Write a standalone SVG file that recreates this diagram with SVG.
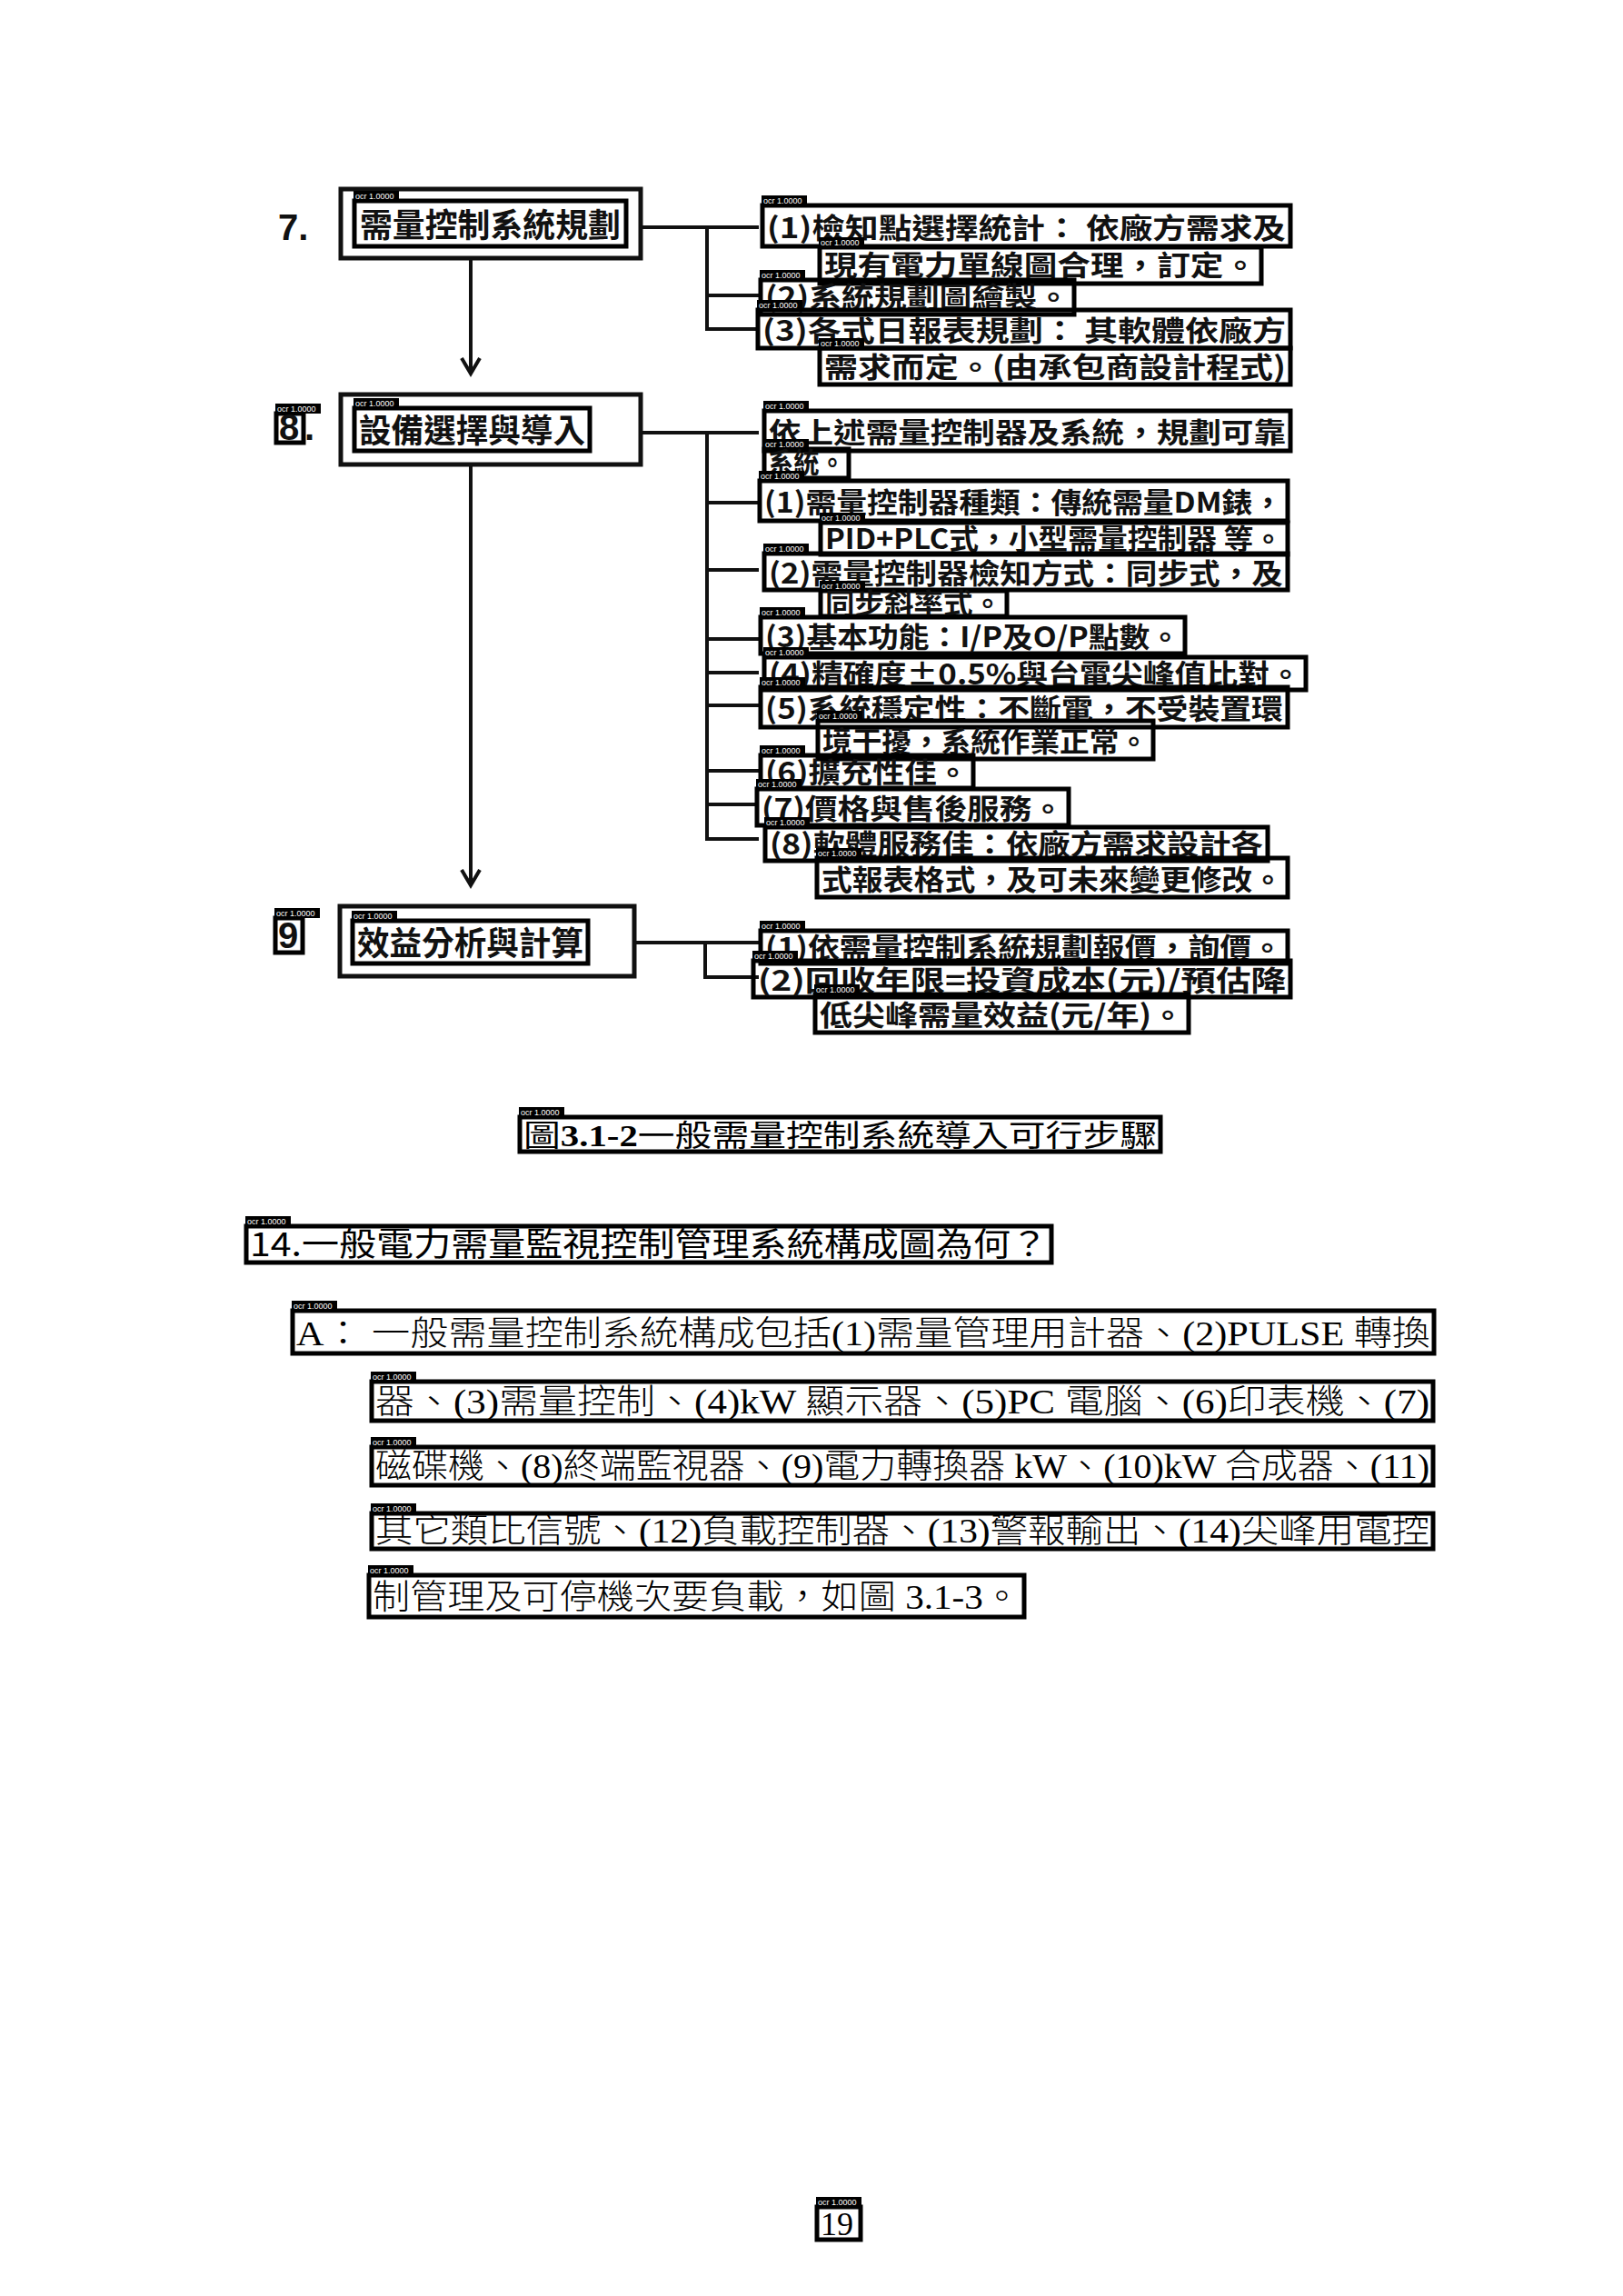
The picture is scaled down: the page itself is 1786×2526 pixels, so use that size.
<svg xmlns="http://www.w3.org/2000/svg" width="1786" height="2526" viewBox="0 0 1786 2526">
<defs>
<style>
.ocr{fill:none;stroke:#000;stroke-width:5}
.tag{fill:#000}
.tagt{font-family:"Liberation Sans",sans-serif;font-size:9px;fill:#fff}
.frame{fill:none;stroke:#111;stroke-width:5}
.conn{fill:none;stroke:#111;stroke-width:4}
.fig{font-family:"Noto Sans CJK TC","Noto Sans CJK SC",sans-serif;font-weight:700;font-size:31px;fill:#111}
.lbl{font-family:"Noto Sans CJK TC",sans-serif;font-weight:700;font-size:36px;fill:#111}
.num{font-family:"Liberation Sans",sans-serif;font-weight:700;font-size:40px;fill:#111}
.para{font-family:"Liberation Serif","Noto Sans CJK TC",serif;font-weight:300;font-size:37px;fill:#000}
.head{font-family:"Noto Sans CJK TC",sans-serif;font-size:36px;fill:#000}
.cap{font-family:"Liberation Serif","Noto Sans CJK TC",serif;font-size:33px;fill:#000}
</style>
<marker id="chev" markerWidth="24" markerHeight="26" viewBox="0 0 24 26" refX="20" refY="13" orient="auto" markerUnits="userSpaceOnUse">
<path d="M3,3 L20,13 L3,23" fill="none" stroke="#111" stroke-width="4"/>
</marker>
</defs>
<rect width="1786" height="2526" fill="#fff"/>

<g id="connectors">
<path class="conn" d="M705,250 H835 M778,250 V362 H835 M778,325 H835"/>
<path class="conn" d="M705,476 H835 M778,476 V923 H835 M778,553 H835 M778,627 H835 M778,703 H835 M778,740 H835 M778,776 H835 M778,848 H835 M778,885 H835"/>
<path class="conn" d="M697,1037 H835 M776,1037 V1075 H835"/>
<line class="conn" x1="518" y1="284" x2="518" y2="411" marker-end="url(#chev)"/>
<line class="conn" x1="518" y1="511" x2="518" y2="974" marker-end="url(#chev)"/>
</g>

<g id="step7">
<text class="num" x="306" y="264">7.</text>
<rect class="frame" x="375" y="208" width="330" height="76"/>
<rect class="ocr" x="390" y="221" width="299" height="50"/>
<rect class="tag" x="389" y="210" width="50" height="11"/><text class="tagt" x="391" y="219">ocr 1.0000</text>
<text class="lbl" x="396" y="261" textLength="287" lengthAdjust="spacingAndGlyphs">需量控制系統規劃</text>
</g>

<g id="step7-items">
<rect class="ocr" x="839" y="226" width="581" height="45"/>
<rect class="tag" x="838" y="215" width="50" height="11"/><text class="tagt" x="840" y="224">ocr 1.0000</text>
<text class="fig" x="844" y="262" textLength="571" lengthAdjust="spacingAndGlyphs">(1)檢知點選擇統計： 依廠方需求及</text>
<rect class="ocr" x="902" y="272" width="486" height="40"/>
<rect class="tag" x="901" y="261" width="50" height="11"/><text class="tagt" x="903" y="270">ocr 1.0000</text>
<text class="fig" x="907" y="303" textLength="476" lengthAdjust="spacingAndGlyphs">現有電力單線圖合理，訂定。</text>
<rect class="ocr" x="837" y="308" width="345" height="38"/>
<rect class="tag" x="836" y="297" width="50" height="11"/><text class="tagt" x="838" y="306">ocr 1.0000</text>
<text class="fig" x="842" y="338" textLength="335" lengthAdjust="spacingAndGlyphs">(2)系統規劃圖繪製。</text>
<rect class="ocr" x="834" y="341" width="586" height="42"/>
<rect class="tag" x="833" y="330" width="50" height="11"/><text class="tagt" x="835" y="339">ocr 1.0000</text>
<text class="fig" x="839" y="375" textLength="576" lengthAdjust="spacingAndGlyphs">(3)各式日報表規劃： 其軟體依廠方</text>
<rect class="ocr" x="902" y="383" width="518" height="40"/>
<rect class="tag" x="901" y="372" width="50" height="11"/><text class="tagt" x="903" y="381">ocr 1.0000</text>
<text class="fig" x="907" y="415" textLength="508" lengthAdjust="spacingAndGlyphs">需求而定。(由承包商設計程式)</text>
</g>

<g id="step8">
<rect class="ocr" x="304" y="455" width="30" height="32"/>
<rect class="tag" x="303" y="444" width="50" height="11"/><text class="tagt" x="305" y="453">ocr 1.0000</text>
<text class="num" x="307" y="484">8</text>
<text class="num" x="335" y="484">.</text>
<rect class="frame" x="375" y="434" width="330" height="77"/>
<rect class="ocr" x="390" y="449" width="259" height="47"/>
<rect class="tag" x="389" y="438" width="50" height="11"/><text class="tagt" x="391" y="447">ocr 1.0000</text>
<text class="lbl" x="395" y="487" textLength="249" lengthAdjust="spacingAndGlyphs">設備選擇與導入</text>
</g>

<g id="step8-items">
<rect class="ocr" x="841" y="452" width="579" height="44"/>
<rect class="tag" x="840" y="441" width="50" height="11"/><text class="tagt" x="842" y="450">ocr 1.0000</text>
<text class="fig" x="846" y="487" textLength="569" lengthAdjust="spacingAndGlyphs">依上述需量控制器及系統，規劃可靠</text>
<rect class="ocr" x="841" y="494" width="93" height="32"/>
<rect class="tag" x="840" y="483" width="50" height="11"/><text class="tagt" x="842" y="492">ocr 1.0000</text>
<text class="fig" x="845" y="520" textLength="85" lengthAdjust="spacingAndGlyphs">系統。</text>
<rect class="ocr" x="836" y="529" width="581" height="44"/>
<rect class="tag" x="835" y="518" width="50" height="11"/><text class="tagt" x="837" y="527">ocr 1.0000</text>
<text class="fig" x="841" y="564" textLength="571" lengthAdjust="spacingAndGlyphs">(1)需量控制器種類：傳統需量DM錶，</text>
<rect class="ocr" x="903" y="575" width="514" height="35"/>
<rect class="tag" x="902" y="564" width="50" height="11"/><text class="tagt" x="904" y="573">ocr 1.0000</text>
<text class="fig" x="908" y="604" textLength="504" lengthAdjust="spacingAndGlyphs">PID+PLC式，小型需量控制器 等。</text>
<rect class="ocr" x="841" y="609" width="576" height="40"/>
<rect class="tag" x="840" y="598" width="50" height="11"/><text class="tagt" x="842" y="607">ocr 1.0000</text>
<text class="fig" x="846" y="642" textLength="566" lengthAdjust="spacingAndGlyphs">(2)需量控制器檢知方式：同步式，及</text>
<rect class="ocr" x="903" y="650" width="205" height="28"/>
<rect class="tag" x="902" y="639" width="50" height="11"/><text class="tagt" x="904" y="648">ocr 1.0000</text>
<text class="fig" x="908" y="675" textLength="195" lengthAdjust="spacingAndGlyphs">同步斜率式。</text>
<rect class="ocr" x="837" y="679" width="467" height="40"/>
<rect class="tag" x="836" y="668" width="50" height="11"/><text class="tagt" x="838" y="677">ocr 1.0000</text>
<text class="fig" x="842" y="712" textLength="457" lengthAdjust="spacingAndGlyphs">(3)基本功能：I/P及O/P點數。</text>
<rect class="ocr" x="841" y="723" width="596" height="36"/>
<rect class="tag" x="840" y="712" width="50" height="11"/><text class="tagt" x="842" y="721">ocr 1.0000</text>
<text class="fig" x="846" y="753" textLength="586" lengthAdjust="spacingAndGlyphs">(4)精確度±0.5%與台電尖峰值比對。</text>
<rect class="ocr" x="837" y="756" width="580" height="44"/>
<rect class="tag" x="836" y="745" width="50" height="11"/><text class="tagt" x="838" y="754">ocr 1.0000</text>
<text class="fig" x="842" y="791" textLength="570" lengthAdjust="spacingAndGlyphs">(5)系統穩定性：不斷電，不受裝置環</text>
<rect class="ocr" x="900" y="793" width="369" height="42"/>
<rect class="tag" x="899" y="782" width="50" height="11"/><text class="tagt" x="901" y="791">ocr 1.0000</text>
<text class="fig" x="905" y="827" textLength="359" lengthAdjust="spacingAndGlyphs">境干擾，系統作業正常。</text>
<rect class="ocr" x="837" y="831" width="234" height="36"/>
<rect class="tag" x="836" y="820" width="50" height="11"/><text class="tagt" x="838" y="829">ocr 1.0000</text>
<text class="fig" x="842" y="861" textLength="224" lengthAdjust="spacingAndGlyphs">(6)擴充性佳。</text>
<rect class="ocr" x="833" y="868" width="343" height="40"/>
<rect class="tag" x="832" y="857" width="50" height="11"/><text class="tagt" x="834" y="866">ocr 1.0000</text>
<text class="fig" x="838" y="901" textLength="333" lengthAdjust="spacingAndGlyphs">(7)價格與售後服務。</text>
<rect class="ocr" x="842" y="910" width="553" height="37"/>
<rect class="tag" x="841" y="899" width="50" height="11"/><text class="tagt" x="843" y="908">ocr 1.0000</text>
<text class="fig" x="847" y="940" textLength="543" lengthAdjust="spacingAndGlyphs">(8)軟體服務佳：依廠方需求設計各</text>
<rect class="ocr" x="899" y="944" width="518" height="43"/>
<rect class="tag" x="898" y="933" width="50" height="11"/><text class="tagt" x="900" y="942">ocr 1.0000</text>
<text class="fig" x="904" y="979" textLength="508" lengthAdjust="spacingAndGlyphs">式報表格式，及可未來變更修改。</text>
</g>

<g id="step9">
<rect class="ocr" x="303" y="1010" width="30" height="38"/>
<rect class="tag" x="302" y="999" width="50" height="11"/><text class="tagt" x="304" y="1008">ocr 1.0000</text>
<text class="num" x="306" y="1043">9</text>
<rect class="frame" x="374" y="997" width="324" height="77"/>
<rect class="ocr" x="388" y="1013" width="259" height="47"/>
<rect class="tag" x="387" y="1002" width="50" height="11"/><text class="tagt" x="389" y="1011">ocr 1.0000</text>
<text class="lbl" x="393" y="1051" textLength="249" lengthAdjust="spacingAndGlyphs">效益分析與計算</text>
</g>

<g id="step9-items">
<rect class="ocr" x="837" y="1024" width="580" height="36"/>
<rect class="tag" x="836" y="1013" width="50" height="11"/><text class="tagt" x="838" y="1022">ocr 1.0000</text>
<text class="fig" x="842" y="1054" textLength="570" lengthAdjust="spacingAndGlyphs">(1)依需量控制系統規劃報價，詢價。</text>
<rect class="ocr" x="829" y="1057" width="591" height="40"/>
<rect class="tag" x="828" y="1046" width="50" height="11"/><text class="tagt" x="830" y="1055">ocr 1.0000</text>
<text class="fig" x="834" y="1090" textLength="581" lengthAdjust="spacingAndGlyphs">(2)回收年限=投資成本(元)/預估降</text>
<rect class="ocr" x="897" y="1094" width="411" height="42"/>
<rect class="tag" x="896" y="1083" width="50" height="11"/><text class="tagt" x="898" y="1092">ocr 1.0000</text>
<text class="fig" x="902" y="1128" textLength="401" lengthAdjust="spacingAndGlyphs">低尖峰需量效益(元/年)。</text>
</g>

<g id="caption">
<rect class="ocr" x="572" y="1229" width="705" height="38"/>
<rect class="tag" x="571" y="1218" width="50" height="11"/><text class="tagt" x="573" y="1227">ocr 1.0000</text>
<text class="cap" x="576" y="1261" textLength="697" lengthAdjust="spacingAndGlyphs">圖<tspan font-weight="700">3.1-2</tspan>一般需量控制系統導入可行步驟</text>
</g>

<g id="question">
<rect class="ocr" x="271" y="1349" width="886" height="40"/>
<rect class="tag" x="270" y="1338" width="50" height="11"/><text class="tagt" x="272" y="1347">ocr 1.0000</text>
<text class="head" x="275" y="1382" textLength="878" lengthAdjust="spacingAndGlyphs">14.一般電力需量監視控制管理系統構成圖為何？</text>
</g>

<g id="answer">
<rect class="ocr" x="322" y="1442" width="1256" height="47"/>
<rect class="tag" x="321" y="1431" width="50" height="11"/><text class="tagt" x="323" y="1440">ocr 1.0000</text>
<text class="para" x="326" y="1480" textLength="1248" lengthAdjust="spacingAndGlyphs">A： 一般需量控制系統構成包括(1)需量管理用計器、(2)PULSE 轉換</text>
<rect class="ocr" x="409" y="1520" width="1168" height="43"/>
<rect class="tag" x="408" y="1509" width="50" height="11"/><text class="tagt" x="410" y="1518">ocr 1.0000</text>
<text class="para" x="413" y="1555" textLength="1160" lengthAdjust="spacingAndGlyphs">器、(3)需量控制、(4)kW 顯示器、(5)PC 電腦、(6)印表機、(7)</text>
<rect class="ocr" x="409" y="1592" width="1168" height="42"/>
<rect class="tag" x="408" y="1581" width="50" height="11"/><text class="tagt" x="410" y="1590">ocr 1.0000</text>
<text class="para" x="413" y="1626" textLength="1160" lengthAdjust="spacingAndGlyphs">磁碟機、(8)終端監視器、(9)電力轉換器 kW、(10)kW 合成器、(11)</text>
<rect class="ocr" x="409" y="1665" width="1168" height="39"/>
<rect class="tag" x="408" y="1654" width="50" height="11"/><text class="tagt" x="410" y="1663">ocr 1.0000</text>
<text class="para" x="413" y="1697" textLength="1160" lengthAdjust="spacingAndGlyphs">其它類比信號、(12)負載控制器、(13)警報輸出、(14)尖峰用電控</text>
<rect class="ocr" x="406" y="1733" width="721" height="46"/>
<rect class="tag" x="405" y="1722" width="50" height="11"/><text class="tagt" x="407" y="1731">ocr 1.0000</text>
<text class="para" x="410" y="1770" textLength="713" lengthAdjust="spacingAndGlyphs">制管理及可停機次要負載，如圖 3.1-3。</text>
</g>

<g id="page-number">
<rect class="ocr" x="899" y="2428" width="48" height="36"/>
<rect class="tag" x="898" y="2417" width="50" height="11"/><text class="tagt" x="900" y="2426">ocr 1.0000</text>
<text x="903" y="2459" font-family="Liberation Serif,serif" font-size="36" fill="#000">19</text>
</g>
</svg>
